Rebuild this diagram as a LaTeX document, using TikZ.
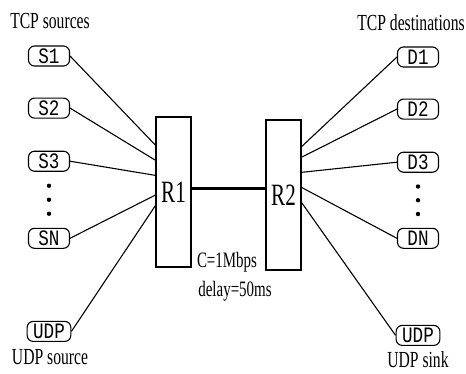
\documentclass[tikz,border=0pt]{standalone}
\usepackage{fontspec}
\setmainfont{Liberation Serif}[FakeStretch=0.68]
\setmonofont{Liberation Mono}[FakeStretch=0.8]
\usepackage{tikz}
\usetikzlibrary{positioning, calc}

\begin{document}
\begin{tikzpicture}[
      x=1pt, y=-1pt,
      node distance=31pt,
      host/.style={draw, line width=1.1pt, rounded corners=6pt, minimum width=41pt,
                   minimum height=20pt, inner xsep=6pt, inner ysep=1pt,
                   font=\fontsize{22}{22}\selectfont\ttfamily},
      router/.style={draw, line width=1.2pt, minimum width=35pt, minimum height=150pt,
                     inner sep=0pt, font=\fontsize{31}{31}\selectfont},
      lbl/.style={inner sep=0pt, anchor=base, font=\fontsize{23}{23}\selectfont},
      wire/.style={line width=1.1pt},
      link/.style={line width=3pt}
  ]
    \useasboundingbox (0,0) rectangle (466,373);

    \node[lbl] (tcps) at (50,28)  {TCP sources};
    \node[lbl] (tcpd) at (411,30) {TCP destinations};
    \node[lbl] (udps) at (50,364) {UDP source};
    \node[lbl] (udpd) at (418,367) {UDP sink};

    \node[host] (S1) at (49,56) {S1};
    \node[host, below=of S1]      (S2) {S2};
    \node[host, below=32pt of S2] (S3) {S3};
    \node[host, below=56pt of S3] (SN) {SN};
    \node[host, below=72pt of SN] (U1) {UDP};

    \node[host] (D1) at (418,57) {D1};
    \node[host, below=of D1]      (D2) {D2};
    \node[host, below=32pt of D2] (D3) {D3};
    \node[host, below=55pt of D3] (DN) {DN};
    \node[host, below=76pt of DN] (U2) {UDP};

    \node[router] (R1) at (173.5,192) {R1};
    \node[router] (R2) at (283.5,195) {R2};

    \node[lbl, font=\fontsize{22}{22}\selectfont] (cap)   at (227,267) {C=1Mbps};
    \node[lbl, font=\fontsize{22}{22}\selectfont] (delay) at (235,296) {delay=50ms};

    % bottleneck link
    \draw[link] ($(R1.east)+(0,-4)$) -- ($(R2.west)+(0,-7)$);

    \draw[wire] (S1.east) -- ($(R1.north west)!0.19!(R1.south west)$);
    \draw[wire] (S2.east) -- ($(R1.north west)!0.29!(R1.south west)$);
    \draw[wire] (S3.east) -- ($(R1.north west)!0.39!(R1.south west)$);
    \draw[wire] (SN.east) -- ($(R1.north west)!0.52!(R1.south west)$);
    \draw[wire] (U1.east) -- ($(R1.north west)!0.59!(R1.south west)$);

    \draw[wire] ($(R2.north east)!0.18!(R2.south east)$) -- (D1.west);
    \draw[wire] ($(R2.north east)!0.25!(R2.south east)$) -- (D2.west);
    \draw[wire] ($(R2.north east)!0.35!(R2.south east)$) -- (D3.west);
    \draw[wire] ($(R2.north east)!0.45!(R2.south east)$) -- (DN.west);
    \draw[wire] ($(R2.north east)!0.55!(R2.south east)$) -- (U2.west);

    % dots between 3 and N
    \fill ($(S3.south)!0.25!(SN.north)$) circle (2.2pt);
    \fill ($(S3.south)!0.5!(SN.north)$)  circle (2.2pt);
    \fill ($(S3.south)!0.75!(SN.north)$) circle (2.2pt);
    \fill ($(D3.south)!0.25!(DN.north)$) circle (2.2pt);
    \fill ($(D3.south)!0.5!(DN.north)$)  circle (2.2pt);
    \fill ($(D3.south)!0.75!(DN.north)$) circle (2.2pt);
  \end{tikzpicture}
\end{document}
